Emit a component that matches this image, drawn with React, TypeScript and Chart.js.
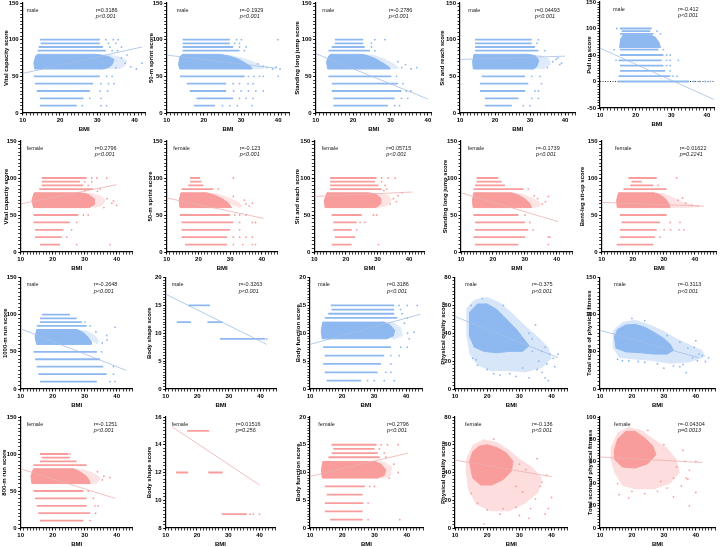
import { useEffect, useRef } from "react";
import Chart from "chart.js/auto";

type Pt = [number, number];
type Band = [number, number, number]; // score, first BMI, last BMI

const MALE = "#8db8f0";
const MALE_FIT = "#a3bfe6";
const FEMALE = "#f89c9c";
const FEMALE_FIT = "#efb0b0";
const FONT = "'Liberation Sans', Arial, sans-serif";

// ---------- row 1 (male) ----------
const vitalMaleBands: Band[] = [[100, 14.6, 30.7], [95, 14.8, 30.7], [90, 14.3, 31.5], [85, 14, 32.3], [50, 13, 30.7], [40, 13.3, 28.9], [30, 13.8, 28], [20, 14.6, 26.3], [10, 14.6, 24.5]];
const vitalMaleCloud: Pt[] = [[13.2, 60], [13, 68], [13.5, 78], [14, 80], [29.5, 80], [31, 79], [33, 77], [34.5, 73], [34, 66], [33, 62], [31.5, 60]];
const vitalMaleHalo: Pt[] = [[29, 80.5], [33, 80], [36, 77], [38, 72], [37.5, 64], [36, 60], [30, 59.5]];
const vitalMaleDots: Pt[] = [[32.3, 100], [34.3, 100], [35.6, 100], [33, 95], [35, 95], [33.4, 90], [36.5, 90], [34, 85], [35.5, 85], [36.5, 75], [37.5, 68], [39, 63], [40.5, 60], [42, 68], [35, 62], [38, 79], [32.5, 50], [34, 50], [31, 40], [33, 40], [34.5, 40], [30.8, 30], [32.8, 30], [28, 20], [31, 20], [26, 10], [31, 10], [32.5, 10]];
const vitalMaleFit: Pt[] = [[10, 54], [42, 90]];

const sprintMaleBands: Band[] = [[100, 14.3, 27], [95, 14.3, 27], [90, 14.3, 27.9], [85, 14.3, 29.6], [50, 13.6, 31], [40, 15.4, 26], [30, 16.2, 26], [20, 18, 27.9], [10, 17.3, 23]];
const sprintMaleCloud: Pt[] = [[13.5, 60], [13.2, 66], [13.5, 76], [14.2, 80], [24.5, 80], [27, 77.5], [29.5, 73], [31, 68.5], [32.5, 64], [33, 60]];
const sprintMaleHalo: Pt[] = [[26, 80], [30, 76], [33, 71], [35, 66], [36.5, 62], [36, 59.5], [32, 59.5]];
const sprintMaleDots: Pt[] = [[28.8, 100], [30.1, 100], [39.9, 100], [28.3, 95], [29.6, 95], [29.6, 90], [31.4, 90], [30.9, 85], [37, 62], [38.5, 60], [39.5, 62.5], [40.5, 60], [36, 64], [34.5, 67], [32, 50], [33.5, 50], [35, 50], [36, 50], [40, 50], [27.9, 40], [29.6, 40], [31.9, 40], [33.2, 40], [28, 30], [30, 30], [32, 30], [34, 30], [36, 30], [29.6, 20], [31.4, 20], [33.2, 20], [25, 10], [27, 10], [29, 10], [33, 10]];
const sprintMaleFit: Pt[] = [[10, 79], [39.5, 61]];

const jumpMaleBands: Band[] = [[100, 15.1, 22.7], [95, 15.1, 22.7], [90, 14.3, 23.1], [85, 13.4, 24.5], [50, 13.4, 30.2], [40, 14.3, 32], [30, 14.3, 32.9], [20, 14.7, 31.1], [10, 14.7, 29.3]];
const jumpMaleCloud: Pt[] = [[13.2, 60], [12.9, 70], [13.5, 78], [14, 80], [22.5, 80], [24, 78], [26, 74], [28, 68], [29.5, 63], [30, 60]];
const jumpMaleHalo: Pt[] = [[22, 80.5], [25.5, 79], [28.5, 74], [31, 67], [32.5, 61], [31, 59.5]];
const jumpMaleDots: Pt[] = [[25.8, 100], [28.5, 100], [24.9, 95], [24.9, 90], [25.8, 85], [33, 62], [34, 66], [35.5, 60], [37, 62], [32, 70], [31.6, 50], [33.3, 40], [34.2, 30], [35.4, 30], [32.9, 20], [34.6, 20], [31.1, 10], [32.4, 10]];
const jumpMaleFit: Pt[] = [[10, 81], [40, 19]];

const reachMaleBands: Band[] = [[100, 14.3, 30.5], [95, 14.3, 30.5], [90, 14.3, 31.4], [85, 14.3, 32.4], [50, 16.2, 28.6], [40, 15.7, 29.5], [30, 15.7, 28.6], [20, 17.1, 26.7], [10, 17.1, 24.8]];
const reachMaleCloud: Pt[] = [[13.8, 60], [13.6, 70], [14, 80], [29.5, 80], [31.5, 78], [32.5, 72], [32, 64], [31, 60]];
const reachMaleHalo: Pt[] = [[29, 80.5], [33, 79], [35.5, 74], [36, 66], [34, 60], [31, 59.5]];
const reachMaleDots: Pt[] = [[32.4, 100], [32, 95], [34.2, 85], [36.5, 70], [37.5, 73], [38.5, 66], [38, 75], [35, 62], [39, 68], [30.5, 50], [32.9, 50], [33.3, 40], [31.4, 30], [32.4, 30], [30.5, 20], [32.4, 20], [28.1, 10], [30, 10]];
const reachMaleFit: Pt[] = [[10, 73], [40, 77.5]];

const pullMaleBands: Band[] = [[100, 15.6, 24.5], [95, 16.1, 24.1], [90, 15.6, 25], [60, 15.6, 26.4], [50, 15.6, 27.8], [40, 15.2, 27.3], [30, 15.6, 27.8], [20, 15.6, 28.3], [10, 15.2, 29.7], [0, 15.2, 35]];
const pullMaleCloud: Pt[] = [[15.5, 64], [15.8, 80], [16.5, 88], [24, 88], [25.5, 84], [26.5, 74], [27, 64]];
const pullMaleDots: Pt[] = [[14.7, 100], [26, 95], [27, 90], [14, 60], [27.8, 60], [28.7, 50], [29.7, 50], [28.7, 40], [29.7, 40], [32, 40], [14.5, 40], [28.7, 30], [29.7, 30], [29.7, 20], [30.5, 10], [31.6, 10], [36.5, 0], [38, 0], [39.5, 0], [41, 0]];
const pullMaleFit: Pt[] = [[10, 63], [42, -34]];

// ---------- row 2 (female) ----------
const vitalFemaleBands: Band[] = [[100, 16.6, 30.6], [95, 16.6, 28.5], [90, 16.6, 29.6], [85, 15.8, 32.7], [50, 14, 28], [40, 14, 25.4], [30, 14.5, 23.3], [20, 14.5, 22.8], [10, 16, 22.3]];
const vitalFemaleCloud: Pt[] = [[14, 60], [13.5, 70], [14.2, 80], [28.5, 80], [31, 78], [33, 72], [33, 64], [31.5, 60]];
const vitalFemaleHalo: Pt[] = [[28, 80.5], [32, 80], [35, 76], [36.5, 70], [35.5, 63], [33, 59.5]];
const vitalFemaleDots: Pt[] = [[32.2, 100], [33.8, 100], [36.9, 100], [30, 95], [32.2, 95], [31.1, 90], [34.8, 85], [37, 72], [38.5, 66], [40, 63], [39, 69], [36, 60], [34, 82], [30, 83], [29.6, 50], [31.1, 50], [27.5, 40], [25.9, 30], [24.4, 20], [27.5, 10], [37.9, 10]];
const vitalFemaleFit: Pt[] = [[10, 65], [40, 91]];

const sprintFemaleBands: Band[] = [[100, 17.4, 20.5], [95, 17.4, 21], [90, 16.8, 21.6], [85, 14.7, 24.7], [50, 14.2, 30], [40, 14.7, 31], [30, 14.7, 30], [20, 14.7, 29], [10, 15.8, 29]];
const sprintFemaleCloud: Pt[] = [[14.2, 60], [13.9, 70], [14.5, 80], [22.6, 80], [25, 77], [27.5, 72], [29.5, 66], [30.5, 60]];
const sprintFemaleHalo: Pt[] = [[22, 80.5], [26, 79], [29.5, 74], [32.5, 68], [34, 62], [33, 59.5]];
const sprintFemaleDots: Pt[] = [[31, 100], [26.3, 85], [35, 65], [36, 62], [37, 66], [34.5, 70], [31, 75], [31.5, 50], [33, 50], [35, 50], [33, 40], [37, 40], [38, 40], [33, 30], [31, 20], [33, 20], [35, 20], [37, 20], [31, 10], [34, 10], [37, 10], [38, 10]];
const sprintFemaleFit: Pt[] = [[10, 73], [40.5, 45.5]];

const reachFemaleBands: Band[] = [[100, 15, 29.7], [95, 15, 29.2], [90, 15, 30.3], [85, 15, 31.3], [50, 15.5, 25], [40, 16, 23.4], [30, 16, 21.8], [20, 16.5, 22.9], [10, 15.5, 21.8]];
const reachFemaleCloud: Pt[] = [[13.4, 60], [13.2, 70], [14, 80], [27, 80], [29.5, 78], [31, 73], [31, 65], [29.5, 60]];
const reachFemaleHalo: Pt[] = [[26.5, 80.5], [30.5, 80], [33.5, 77], [34.5, 70], [33, 62], [30, 59.5]];
const reachFemaleDots: Pt[] = [[31.3, 100], [33.4, 100], [35.6, 100], [31.3, 95], [32.4, 90], [32.9, 85], [35, 72], [36.5, 76], [37.7, 80], [34, 65], [36, 68], [32, 83], [28.7, 50], [29.7, 50], [24.5, 40], [26, 40], [23.4, 30], [30.3, 10]];
const reachFemaleFit: Pt[] = [[10, 75], [41, 81]];

const jumpFemaleBands: Band[] = [[100, 14.9, 21.7], [95, 14.9, 22.8], [90, 14.4, 23.8], [85, 13.9, 29.6], [50, 13.9, 28], [40, 14.4, 30.1], [30, 14.4, 31.1], [20, 13.9, 30.1], [10, 14.4, 28]];
const jumpFemaleCloud: Pt[] = [[13.8, 60], [13.6, 70], [14, 80], [25.9, 80], [28, 77], [30, 72], [31.5, 66], [32.2, 60]];
const jumpFemaleHalo: Pt[] = [[25.5, 80.5], [29, 79], [32, 74], [34.5, 68], [35, 62], [33, 59.5]];
const jumpFemaleDots: Pt[] = [[31.1, 85], [36.5, 68], [37.4, 75], [35.5, 65], [34, 72], [33, 76], [30.1, 50], [31.6, 40], [32.6, 30], [37.4, 20], [37.9, 20], [37.4, 10]];
const jumpFemaleFit: Pt[] = [[10, 80], [40.5, 41]];

const situpFemaleBands: Band[] = [[100, 18.6, 27.7], [95, 19.6, 22.9], [90, 19.1, 26.6], [85, 17, 30.9], [50, 15.9, 30.9], [40, 16.4, 28.8], [30, 15.9, 27.7], [20, 15.9, 27.1], [10, 14.8, 26.6]];
const situpFemaleCloud: Pt[] = [[15, 60], [14.8, 70], [15.4, 80], [26.6, 80], [28.5, 78], [30.5, 72], [31.5, 66], [32, 60]];
const situpFemaleHalo: Pt[] = [[26, 80.5], [30, 79.5], [33, 74], [36, 68], [40, 64], [41.6, 61], [38, 59.5], [32, 59.5]];
const situpFemaleDots: Pt[] = [[34.1, 100], [28.2, 90], [37, 66], [39, 63], [41, 62], [34.5, 70], [36, 73], [32, 40], [35.2, 40], [30.1, 30], [32.2, 30], [34.9, 30], [36.5, 30], [28.8, 20]];
const situpFemaleFit: Pt[] = [[10, 67], [43, 62]];

// ---------- row 3 (male) ----------
const runMaleBands: Band[] = [[100, 16.6, 25.4], [95, 16, 27.5], [90, 16, 29.1], [85, 15, 30.6], [50, 14, 33.8], [40, 14.5, 34.8], [30, 15, 35.8], [20, 15.5, 36.9], [10, 16, 33.8]];
const runMaleCloud: Pt[] = [[15, 60], [14.5, 70], [15, 80], [27.5, 80], [29.5, 76], [31, 70], [32, 64], [32, 60]];
const runMaleHalo: Pt[] = [[27, 80.5], [30.5, 79], [33, 73], [34.5, 65], [34, 59.5]];
const runMaleDots: Pt[] = [[30.1, 90], [31.7, 85], [36.9, 72], [39.5, 83], [35.5, 62], [37, 66], [33.5, 77], [35.3, 50], [39, 30], [39, 20], [37.9, 10], [39.5, 10]];
const runMaleFit: Pt[] = [[10, 81], [43, 25]];

const shapeMaleBands: Band[] = [[15, 17.2, 24], [12, 13.5, 18], [12, 23.2, 28], [9, 27.2, 41.5]];
const shapeMaleDots: Pt[] = [[42, 9]];
const shapeMaleFit: Pt[] = [[10, 17], [42, 8]];

const functionMaleBands: Band[] = [[15, 16.5, 36.3], [14.25, 16.7, 36.3], [13.5, 15.7, 36.3], [12.75, 14.6, 37.3], [7.5, 14.1, 35.3], [6, 14.6, 33.2], [4.5, 14.1, 32.2], [3, 14.6, 31.1], [1.5, 15.2, 26]];
const functionMaleCloud: Pt[] = [[13.8, 9], [13.5, 10.5], [14, 12], [33, 12], [35, 11.5], [36.5, 10.5], [36, 9.5], [34, 9]];
const functionMaleHalo: Pt[] = [[32.5, 12.2], [36, 12], [38.5, 11], [39, 9.5], [36, 8.8]];
const functionMaleDots: Pt[] = [[37.8, 15], [40.4, 15], [43.5, 15], [38.3, 14.25], [38.8, 13.5], [40.4, 12.75], [40.5, 10], [42.5, 10.2], [39.5, 11.8], [41, 9], [38.4, 7.5], [40.4, 7.5], [35.3, 6], [37.9, 6], [35.3, 4.5], [33.7, 3], [35.3, 3], [28, 1.5], [30.1, 1.5], [33.2, 1.5], [36.3, 1.5]];
const functionMaleFit: Pt[] = [[10, 8], [44.5, 13.4]];

const qualityMaleCloud: Pt[] = [[14.5, 55], [17, 61], [20, 61], [23, 57], [26, 50], [29, 43], [31, 37], [33, 31], [31, 27], [27, 27], [23, 26], [19, 27], [16, 30], [14.5, 38]];
const qualityMaleHalo: Pt[] = [[13.5, 58], [16, 64], [20, 66], [24, 62], [28, 54], [32, 45], [36, 37], [39, 30], [40, 22], [37, 15], [32, 12], [26, 13], [21, 13], [17, 17], [14.5, 25], [13.5, 40]];
const qualityMaleDots: Pt[] = [[39, 6], [33, 8], [37, 12], [40.5, 22], [38, 30], [35, 46], [22, 11], [17, 17], [15.5, 22], [29, 9], [42, 25], [36, 20], [24, 10], [34, 27], [30, 34], [41, 16], [38.5, 18], [35.5, 14], [31, 15], [27, 11], [20, 14], [16.5, 21], [34, 36], [37, 27], [39.5, 25], [33, 40], [25, 60], [15, 60], [18.5, 65], [38, 8]];
const qualityMaleFit: Pt[] = [[10, 52], [42, 22.5]];

const totalMaleCloud: Pt[] = [[14.5, 70], [15.5, 80], [18, 86], [21, 87], [24, 83], [27, 76], [30, 68], [32, 60], [33, 52], [31, 47], [27, 47], [22, 49], [18, 50], [15, 55]];
const totalMaleHalo: Pt[] = [[14, 78], [17, 90], [21, 93], [26, 86], [30, 78], [34, 68], [38, 60], [42, 52], [43, 43], [38, 36], [32, 34], [26, 38], [20, 40], [16, 42], [14, 55]];
const totalMaleDots: Pt[] = [[40, 65], [43, 37], [37, 22], [35, 30], [24, 36], [19, 38], [30, 28], [44, 42], [41, 47], [15.5, 40], [39, 42], [36, 33], [40.5, 38], [42, 45], [33, 31], [28, 34], [22, 37], [17, 38], [37.5, 55], [39.5, 56], [35, 63], [31, 72], [24, 92], [20, 95]];
const totalMaleFit: Pt[] = [[10, 79], [41, 42]];

// ---------- row 4 (female) ----------
const runFemaleBands: Band[] = [[100, 16, 24.9], [95, 16.6, 25.4], [90, 16, 27.5], [85, 14, 30.6], [50, 14, 29.6], [40, 14.5, 30.6], [30, 15, 30.6], [20, 15.5, 31.7], [10, 16, 29.6]];
const runFemaleCloud: Pt[] = [[13.5, 60], [13.2, 70], [14, 80], [26.5, 80], [28.5, 76], [30.5, 70], [31.5, 64], [31.7, 60]];
const runFemaleHalo: Pt[] = [[26, 80.5], [30, 79], [33, 74], [35, 68], [34, 60], [31.5, 59.5]];
const runFemaleDots: Pt[] = [[25.4, 100], [36, 70], [37.9, 68], [35.5, 65], [34, 76], [31.1, 50], [32.7, 40], [33.2, 30], [34.2, 30], [33.4, 20], [31.7, 10]];
const runFemaleFit: Pt[] = [[10, 80], [39.5, 40]];

const shapeFemaleBands: Band[] = [[15, 16.9, 23.9], [12, 13.3, 17.2], [12, 23.6, 28.2], [9, 27.9, 35.9]];
const shapeFemaleDots: Pt[] = [[37, 9], [38, 9], [40, 9]];
const shapeFemaleFit: Pt[] = [[12, 15.3], [40, 11.1]];

const functionFemaleBands: Band[] = [[15, 16.7, 30.6], [14.25, 17.2, 30], [13.5, 16.7, 31], [12.75, 15.7, 31.6], [7.5, 14.6, 27], [6, 15.2, 26.3], [4.5, 14.6, 26.5], [3, 14.6, 26.3], [1.5, 16.2, 26.3]];
const functionFemaleCloud: Pt[] = [[13.8, 9], [13.5, 10.5], [14, 12], [30, 12], [32, 11.5], [33.5, 10.5], [33, 9.5], [31, 9]];
const functionFemaleHalo: Pt[] = [[29.5, 12.2], [33, 12], [35.5, 11], [35, 9.3], [32, 8.8]];
const functionFemaleDots: Pt[] = [[32, 15], [34, 15], [37.3, 15], [31.5, 14.25], [33, 13.5], [33.5, 12.75], [37.3, 10], [36, 11.5], [34.5, 9], [28.5, 7.5], [30, 7.5], [28, 4.5], [28, 1.5], [37.8, 1.5]];
const functionFemaleFit: Pt[] = [[10, 9.3], [40.4, 13.5]];

const qualityFemaleCloud: Pt[] = [[14.5, 48], [15.5, 55], [17.5, 59], [20, 60], [23, 58], [26, 54], [28, 48], [27.5, 41], [25, 35], [21.5, 31], [18, 31], [15.5, 36]];
const qualityFemaleHalo: Pt[] = [[13.5, 50], [15.5, 60], [19, 64], [23, 62], [27, 56], [30, 50], [34, 44], [37, 36], [36, 26], [32, 18], [27, 12], [21, 12], [16.5, 17], [14, 28], [13.3, 42]];
const qualityFemaleDots: Pt[] = [[39, 14], [38, 10], [35.5, 50], [30, 9], [19, 3], [40, 22], [37, 33], [33, 7], [24, 10], [31, 26], [29, 30], [35, 21], [33.5, 14], [29, 15], [25, 14], [20, 13], [17, 18], [15, 25], [36.5, 30], [38.5, 38], [32, 42], [30, 46], [22, 64]];
const qualityFemaleFit: Pt[] = [[10, 49], [40, 37]];

const totalFemaleCloud: Pt[] = [[14.5, 70], [15.5, 80], [18, 87], [21, 87], [24, 81], [26.5, 74], [27.5, 66], [25, 58], [21, 54], [17, 55], [14.5, 62]];
const totalFemaleHalo: Pt[] = [[13.3, 72], [15.5, 86], [19, 91], [23, 88], [27, 80], [31, 72], [34, 62], [35, 50], [32, 40], [27, 35], [21, 35], [17, 38], [14.5, 50], [13.3, 62]];
const totalFemaleDots: Pt[] = [[40, 32], [38, 20], [36, 70], [33, 28], [19, 27], [16, 30], [37, 45], [37.5, 44], [29, 42], [31, 36], [34, 55], [35.5, 38], [33, 45], [28, 33], [24, 31], [20, 33], [15.5, 40], [36.5, 60], [38, 52], [30, 75], [25, 88], [40, 60]];
const totalFemaleFit: Pt[] = [[10, 64], [42, 59]];

type PanelSpec = {
  box: [number, number, number, number]; // plot area left, top, width, height
  yW: number;
  sexOff: number;
  rOff: number;
  xMax: number;
  y: [number, number, number, number]; // min, max, major step, minor step
  yTitle: string;
  sex: "male" | "female";
  r: string;
  p: string;
  bands: Band[];
  cloud?: Pt[];
  halo?: Pt[];
  dots: Pt[];
  fit: Pt[];
  zero?: boolean;
};

const panels: PanelSpec[] = [
  { box: [22.7, 3, 123, 110], yW: 19, sexOff: 4, rOff: 73, xMax: 43, y: [0, 150, 50, 5], yTitle: "Vital capacity score", sex: "male", r: "r=0.3186", p: "p<0.001", bands: vitalMaleBands, cloud: vitalMaleCloud, halo: vitalMaleHalo, dots: vitalMaleDots, fit: vitalMaleFit },
  { box: [166.7, 3, 122.6, 110], yW: 18.6, sexOff: 10, rOff: 73, xMax: 43, y: [0, 150, 50, 5], yTitle: "50-m sprint score", sex: "male", r: "r=-0.1929", p: "p<0.001", bands: sprintMaleBands, cloud: sprintMaleCloud, halo: sprintMaleHalo, dots: sprintMaleDots, fit: sprintMaleFit },
  { box: [315.7, 3, 116, 110], yW: 21, sexOff: 6.6, rOff: 73, xMax: 41, y: [0, 150, 50, 5], yTitle: "Standing long jump score", sex: "male", r: "r=-0.2786", p: "p<0.001", bands: jumpMaleBands, cloud: jumpMaleCloud, halo: jumpMaleHalo, dots: jumpMaleDots, fit: jumpMaleFit },
  { box: [460, 3, 115.5, 110], yW: 20.3, sexOff: 8.3, rOff: 75, xMax: 43, y: [0, 150, 50, 5], yTitle: "Sit and reach score", sex: "male", r: "r=0.04493", p: "p<0.001", bands: reachMaleBands, cloud: reachMaleCloud, halo: reachMaleHalo, dots: reachMaleDots, fit: reachMaleFit },
  { box: [600, 2, 114, 106], yW: 13.6, sexOff: 13, rOff: 78, xMax: 42, y: [-50, 150, 50, 5], yTitle: "Pull up score", sex: "male", r: "r=-0.412", p: "p<0.001", bands: pullMaleBands, cloud: pullMaleCloud, dots: pullMaleDots, fit: pullMaleFit, zero: true },

  { box: [20.7, 141, 112, 111], yW: 17.6, sexOff: 6, rOff: 74, xMax: 45, y: [0, 150, 50, 5], yTitle: "Vital capacity score", sex: "female", r: "r=0.2796", p: "p<0.001", bands: vitalFemaleBands, cloud: vitalFemaleCloud, halo: vitalFemaleHalo, dots: vitalFemaleDots, fit: vitalFemaleFit },
  { box: [166.7, 141, 111, 111], yW: 19.6, sexOff: 6.6, rOff: 73, xMax: 45, y: [0, 150, 50, 5], yTitle: "50-m sprint score", sex: "female", r: "r=-0.123", p: "p<0.001", bands: sprintFemaleBands, cloud: sprintFemaleCloud, halo: sprintFemaleHalo, dots: sprintFemaleDots, fit: sprintFemaleFit },
  { box: [314.3, 141, 110.6, 111], yW: 19.6, sexOff: 7.4, rOff: 72, xMax: 45, y: [0, 150, 50, 5], yTitle: "Sit and reach score", sex: "female", r: "r=0.05715", p: "p<0.001", bands: reachFemaleBands, cloud: reachFemaleCloud, halo: reachFemaleHalo, dots: reachFemaleDots, fit: reachFemaleFit },
  { box: [461, 141, 111.6, 111], yW: 19, sexOff: 6.7, rOff: 75, xMax: 45, y: [0, 150, 50, 5], yTitle: "Standing long jump score", sex: "female", r: "r=-0.1739", p: "p<0.001", bands: jumpFemaleBands, cloud: jumpFemaleCloud, halo: jumpFemaleHalo, dots: jumpFemaleDots, fit: jumpFemaleFit },
  { box: [601.7, 141, 115, 111], yW: 22, sexOff: 13.3, rOff: 78, xMax: 47, y: [0, 150, 50, 5], yTitle: "Bent-leg sit-up score", sex: "female", r: "r=-0.01622", p: "p=0.2241", bands: situpFemaleBands, cloud: situpFemaleCloud, halo: situpFemaleHalo, dots: situpFemaleDots, fit: situpFemaleFit },

  { box: [20.7, 277.5, 112, 111], yW: 18.3, sexOff: 6, rOff: 73, xMax: 45, y: [0, 150, 50, 5], yTitle: "1000-m run score", sex: "male", r: "r=-0.2648", p: "p<0.001", bands: runMaleBands, cloud: runMaleCloud, halo: runMaleHalo, dots: runMaleDots, fit: runMaleFit },
  { box: [165.7, 277.5, 110.6, 111], yW: 19.3, sexOff: 6, rOff: 73, xMax: 45, y: [0, 20, 5, 0.5], yTitle: "Body shape score", sex: "male", r: "r=-0.3263", p: "p<0.001", bands: shapeMaleBands, dots: shapeMaleDots, fit: shapeMaleFit },
  { box: [310, 277.5, 112, 111], yW: 14.6, sexOff: 8, rOff: 77, xMax: 45, y: [0, 20, 5, 0.5], yTitle: "Body function score", sex: "male", r: "r=0.3186", p: "p<0.001", bands: functionMaleBands, cloud: functionMaleCloud, halo: functionMaleHalo, dots: functionMaleDots, fit: functionMaleFit },
  { box: [455, 277.5, 112.7, 111], yW: 14.3, sexOff: 10, rOff: 77, xMax: 45, y: [0, 80, 20, 2.5], yTitle: "Physical quality score", sex: "male", r: "r=-0.375", p: "p<0.001", bands: [], cloud: qualityMaleCloud, halo: qualityMaleHalo, dots: qualityMaleDots, fit: qualityMaleFit },
  { box: [600, 277.5, 115, 111], yW: 13.6, sexOff: 14, rOff: 78, xMax: 46, y: [0, 150, 50, 5], yTitle: "Total score of physical fitness", sex: "male", r: "r=-0.3113", p: "p<0.001", bands: [], cloud: totalMaleCloud, halo: totalMaleHalo, dots: totalMaleDots, fit: totalMaleFit },

  { box: [20.7, 417, 112, 111], yW: 19.3, sexOff: 6, rOff: 73, xMax: 45, y: [0, 150, 50, 5], yTitle: "800-m run score", sex: "female", r: "r=-0.1251", p: "p<0.001", bands: runFemaleBands, cloud: runFemaleCloud, halo: runFemaleHalo, dots: runFemaleDots, fit: runFemaleFit },
  { box: [165.7, 417, 109.5, 111], yW: 19.3, sexOff: 6, rOff: 70, xMax: 45, y: [8, 16, 2, 0.25], yTitle: "Body shape score", sex: "female", r: "r=0.01516", p: "p=0.256", bands: shapeFemaleBands, dots: shapeFemaleDots, fit: shapeFemaleFit },
  { box: [310, 417, 113, 111], yW: 14.6, sexOff: 8.3, rOff: 77, xMax: 45, y: [0, 20, 5, 0.5], yTitle: "Body function score", sex: "female", r: "r=0.2796", p: "p<0.001", bands: functionFemaleBands, cloud: functionFemaleCloud, halo: functionFemaleHalo, dots: functionFemaleDots, fit: functionFemaleFit },
  { box: [455, 417, 112.7, 111], yW: 14.3, sexOff: 10, rOff: 77, xMax: 45, y: [0, 80, 20, 2.5], yTitle: "Physical quality score", sex: "female", r: "r=-0.136", p: "p<0.001", bands: [], cloud: qualityFemaleCloud, halo: qualityFemaleHalo, dots: qualityFemaleDots, fit: qualityFemaleFit },
  { box: [600, 417, 115, 111], yW: 12.6, sexOff: 14, rOff: 78, xMax: 46, y: [0, 100, 20, 2.5], yTitle: "Total score of physical fitness", sex: "female", r: "r=-0.04304", p: "p=0.0013", bands: [], cloud: totalFemaleCloud, halo: totalFemaleHalo, dots: totalFemaleDots, fit: totalFemaleFit },
];

const toXY = (pts: Pt[]) => pts.map(([x, y]) => ({ x, y }));
const isMajor = (v: number, step: number) => Math.abs(v / step - Math.round(v / step)) < 1e-6;

const Panel = ({ s }: { s: PanelSpec }) => {
  const chartRef = useRef<HTMLCanvasElement>(null);
  const [L, T, W, H] = s.box;
  const cl = Math.floor(L - s.yW);
  const ct = Math.floor(T - 6);
  const yW = L - cl;
  const padTop = T - ct;
  const cw = Math.ceil(yW + W + 5);
  const ch = Math.ceil(padTop + H + 20);
  const padRight = cw - yW - W;

  useEffect(() => {
    if (!chartRef.current) return;
    const col = s.sex === "male" ? MALE : FEMALE;
    const fitCol = s.sex === "male" ? MALE_FIT : FEMALE_FIT;
    const [yMin, yMax, yMajor, yMinor] = s.y;
    const font = { family: FONT, size: 6, weight: "bold" as const };
    // blob panels (no bands) get a lighter halo than the banded ones
    const haloAlpha = s.bands.length ? "48" : "58";

    const datasets: any[] = [
      { data: toXY(s.fit), showLine: true, borderColor: fitCol, borderWidth: 0.8, pointRadius: 0 },
      { data: toXY(s.dots), pointRadius: 0.9, pointBorderWidth: 0, pointBackgroundColor: col },
    ];
    s.bands.forEach(([y, x0, x1]) => {
      datasets.push({ data: [{ x: x0, y }, { x: x1, y }], showLine: true, borderColor: col, borderWidth: 1.8, pointRadius: 0 });
    });
    if (s.zero) {
      datasets.push({ data: [{ x: 10, y: 0 }, { x: s.xMax, y: 0 }], showLine: true, borderColor: "#000", borderWidth: 0.8, borderDash: [1, 1.5], pointRadius: 0 });
    }
    if (s.cloud) {
      datasets.push({ data: toXY([...s.cloud, s.cloud[0]]), showLine: true, fill: "shape", backgroundColor: col, borderColor: col, borderWidth: 1, pointRadius: 0 });
    }
    if (s.halo) {
      datasets.push({ data: toXY([...s.halo, s.halo[0]]), showLine: true, fill: "shape", backgroundColor: col + haloAlpha, borderWidth: 0, pointRadius: 0 });
    }

    const chartInstance = new Chart(chartRef.current, {
      type: "scatter",
      data: { datasets },
      options: {
        responsive: false,
        animation: false,
        events: [],
        layout: { padding: { top: padTop, right: padRight, left: 0, bottom: 0 } },
        plugins: { legend: { display: false }, tooltip: { enabled: false } },
        scales: {
          x: {
            type: "linear",
            min: 10,
            max: s.xMax,
            afterFit: (sc: any) => { sc.height = 20; },
            ticks: {
              stepSize: 1, autoSkip: false, maxRotation: 0, minRotation: 0, padding: 1.5, color: "#000", font,
              callback: (v: any) => (isMajor(Number(v), 10) ? String(v) : ""),
            },
            grid: {
              drawOnChartArea: false, tickLength: 2.5, tickColor: "#000",
              tickWidth: (c: any) => (c.tick && isMajor(c.tick.value, 10) ? 1.1 : 0.8),
            },
            border: { color: "#000", width: 1.2 },
            title: { display: true, text: "BMI", color: "#000", font, padding: 0 },
          },
          y: {
            type: "linear",
            min: yMin,
            max: yMax,
            afterFit: (sc: any) => { sc.width = yW; },
            ticks: {
              stepSize: yMinor, autoSkip: false, padding: 1.5, color: "#000", font,
              callback: (v: any) => (isMajor(Number(v), yMajor) ? String(v) : ""),
            },
            grid: {
              drawOnChartArea: false, tickLength: 2.5, tickColor: "#000",
              tickWidth: (c: any) => (c.tick && isMajor(c.tick.value, yMajor) ? 1.1 : 0.8),
            },
            border: { color: "#000", width: 1.2 },
            title: { display: true, text: s.yTitle, color: "#000", font, padding: 0 },
          },
        },
      } as any,
    });

    return () => {
      chartInstance.destroy();
    };
  }, [s]);

  const txt = { position: "absolute" as const, fontFamily: FONT, fontSize: 5.5, lineHeight: "6px", color: "#222", whiteSpace: "nowrap" as const };
  return (
    <>
      <canvas ref={chartRef} width={cw} height={ch} style={{ position: "absolute", left: cl, top: ct, width: cw, height: ch }} />
      <div style={{ ...txt, left: L + s.sexOff, top: T + 3.5 }}>{s.sex}</div>
      <div style={{ ...txt, left: L + s.rOff, top: T + 3.5 }}>{s.r}</div>
      <div style={{ ...txt, left: L + s.rOff, top: T + 10, fontStyle: "italic" }}>{s.p}</div>
    </>
  );
};

export default function App() {
  return (
    <div style={{ position: "absolute", left: 0, top: 0, width: 720, height: 547, overflow: "hidden", background: "#fff" }}>
      {panels.map((s, i) => (
        <Panel key={i} s={s} />
      ))}
    </div>
  );
}
